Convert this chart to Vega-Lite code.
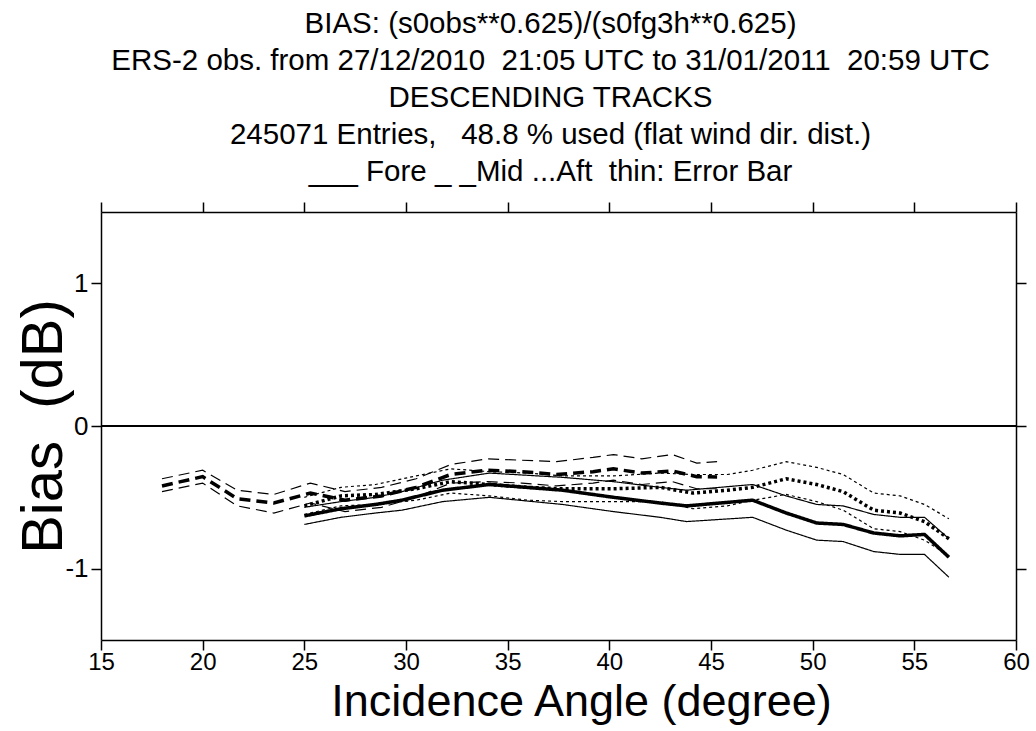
{
  "$schema": "https://vega.github.io/schema/vega-lite/v6.json",
  "width": 915,
  "height": 428,
  "autosize": {"type": "none"},
  "padding": {"left": 101, "top": 212, "right": 20, "bottom": 91},
  "background": "white",
  "title": {
    "text": [
      "BIAS: (s0obs**0.625)/(s0fg3h**0.625)",
      "ERS-2 obs. from 27/12/2010 \u00a021:05 UTC to 31/01/2011 \u00a020:59 UTC",
      "DESCENDING TRACKS",
      "245071 Entries, \u00a0 48.8 % used (flat wind dir. dist.)",
      "___ Fore _ _Mid ...Aft \u00a0thin: Error Bar"
    ],
    "anchor": "middle",
    "font": "Liberation Sans",
    "fontSize": 29.5,
    "fontWeight": "normal",
    "color": "black",
    "lineHeight": 37,
    "offset": 14,
    "dx": -8
  },
  "config": {
    "view": {"stroke": null},
    "axis": {
      "domainColor": "black",
      "domainWidth": 1.5,
      "tickColor": "black",
      "tickWidth": 1.5,
      "tickSize": 10,
      "labelColor": "black",
      "labelFont": "Liberation Sans",
      "labelFontSize": 26,
      "titleFont": "Liberation Sans",
      "titleColor": "black",
      "titleFontWeight": "normal",
      "grid": false
    }
  },
  "data": {
    "values": [
      {"angle": 18.0, "bias": -0.42, "beam": "Mid", "stat": "bias"},
      {"angle": 20.0, "bias": -0.355, "beam": "Mid", "stat": "bias"},
      {"angle": 21.7, "bias": -0.51, "beam": "Mid", "stat": "bias"},
      {"angle": 23.5, "bias": -0.54, "beam": "Mid", "stat": "bias"},
      {"angle": 25.3, "bias": -0.47, "beam": "Mid", "stat": "bias"},
      {"angle": 27.0, "bias": -0.52, "beam": "Mid", "stat": "bias"},
      {"angle": 28.8, "bias": -0.49, "beam": "Mid", "stat": "bias"},
      {"angle": 30.5, "bias": -0.43, "beam": "Mid", "stat": "bias"},
      {"angle": 32.2, "bias": -0.34, "beam": "Mid", "stat": "bias"},
      {"angle": 34.0, "bias": -0.31, "beam": "Mid", "stat": "bias"},
      {"angle": 35.7, "bias": -0.32, "beam": "Mid", "stat": "bias"},
      {"angle": 37.4, "bias": -0.34, "beam": "Mid", "stat": "bias"},
      {"angle": 39.2, "bias": -0.32, "beam": "Mid", "stat": "bias"},
      {"angle": 40.2, "bias": -0.30, "beam": "Mid", "stat": "bias"},
      {"angle": 41.6, "bias": -0.33, "beam": "Mid", "stat": "bias"},
      {"angle": 43.1, "bias": -0.315, "beam": "Mid", "stat": "bias"},
      {"angle": 44.3, "bias": -0.355, "beam": "Mid", "stat": "bias"},
      {"angle": 45.3, "bias": -0.357, "beam": "Mid", "stat": "bias"},

      {"angle": 18.0, "bias": -0.37, "beam": "Mid", "stat": "upper"},
      {"angle": 20.0, "bias": -0.31, "beam": "Mid", "stat": "upper"},
      {"angle": 21.7, "bias": -0.45, "beam": "Mid", "stat": "upper"},
      {"angle": 23.5, "bias": -0.48, "beam": "Mid", "stat": "upper"},
      {"angle": 25.3, "bias": -0.40, "beam": "Mid", "stat": "upper"},
      {"angle": 27.0, "bias": -0.46, "beam": "Mid", "stat": "upper"},
      {"angle": 28.8, "bias": -0.43, "beam": "Mid", "stat": "upper"},
      {"angle": 30.5, "bias": -0.37, "beam": "Mid", "stat": "upper"},
      {"angle": 32.2, "bias": -0.27, "beam": "Mid", "stat": "upper"},
      {"angle": 34.0, "bias": -0.23, "beam": "Mid", "stat": "upper"},
      {"angle": 35.7, "bias": -0.24, "beam": "Mid", "stat": "upper"},
      {"angle": 37.4, "bias": -0.25, "beam": "Mid", "stat": "upper"},
      {"angle": 39.2, "bias": -0.22, "beam": "Mid", "stat": "upper"},
      {"angle": 40.2, "bias": -0.20, "beam": "Mid", "stat": "upper"},
      {"angle": 41.6, "bias": -0.23, "beam": "Mid", "stat": "upper"},
      {"angle": 43.1, "bias": -0.20, "beam": "Mid", "stat": "upper"},
      {"angle": 44.3, "bias": -0.26, "beam": "Mid", "stat": "upper"},
      {"angle": 45.3, "bias": -0.25, "beam": "Mid", "stat": "upper"},

      {"angle": 18.0, "bias": -0.46, "beam": "Mid", "stat": "lower"},
      {"angle": 20.0, "bias": -0.40, "beam": "Mid", "stat": "lower"},
      {"angle": 21.7, "bias": -0.56, "beam": "Mid", "stat": "lower"},
      {"angle": 23.5, "bias": -0.61, "beam": "Mid", "stat": "lower"},
      {"angle": 25.3, "bias": -0.54, "beam": "Mid", "stat": "lower"},
      {"angle": 27.0, "bias": -0.60, "beam": "Mid", "stat": "lower"},
      {"angle": 28.8, "bias": -0.57, "beam": "Mid", "stat": "lower"},
      {"angle": 30.5, "bias": -0.50, "beam": "Mid", "stat": "lower"},
      {"angle": 32.2, "bias": -0.40, "beam": "Mid", "stat": "lower"},
      {"angle": 34.0, "bias": -0.39, "beam": "Mid", "stat": "lower"},
      {"angle": 35.7, "bias": -0.40, "beam": "Mid", "stat": "lower"},
      {"angle": 37.4, "bias": -0.42, "beam": "Mid", "stat": "lower"},
      {"angle": 39.2, "bias": -0.40, "beam": "Mid", "stat": "lower"},
      {"angle": 40.2, "bias": -0.38, "beam": "Mid", "stat": "lower"},
      {"angle": 41.6, "bias": -0.41, "beam": "Mid", "stat": "lower"},
      {"angle": 43.1, "bias": -0.39, "beam": "Mid", "stat": "lower"},
      {"angle": 44.3, "bias": -0.44, "beam": "Mid", "stat": "lower"},
      {"angle": 45.3, "bias": -0.44, "beam": "Mid", "stat": "lower"},

      {"angle": 25.0, "bias": -0.63, "beam": "Fore", "stat": "bias"},
      {"angle": 26.8, "bias": -0.58, "beam": "Fore", "stat": "bias"},
      {"angle": 28.5, "bias": -0.55, "beam": "Fore", "stat": "bias"},
      {"angle": 29.8, "bias": -0.52, "beam": "Fore", "stat": "bias"},
      {"angle": 31.8, "bias": -0.45, "beam": "Fore", "stat": "bias"},
      {"angle": 34.1, "bias": -0.41, "beam": "Fore", "stat": "bias"},
      {"angle": 37.7, "bias": -0.45, "beam": "Fore", "stat": "bias"},
      {"angle": 40.2, "bias": -0.50, "beam": "Fore", "stat": "bias"},
      {"angle": 42.5, "bias": -0.54, "beam": "Fore", "stat": "bias"},
      {"angle": 43.8, "bias": -0.56, "beam": "Fore", "stat": "bias"},
      {"angle": 47.05, "bias": -0.52, "beam": "Fore", "stat": "bias"},
      {"angle": 48.7, "bias": -0.61, "beam": "Fore", "stat": "bias"},
      {"angle": 50.2, "bias": -0.68, "beam": "Fore", "stat": "bias"},
      {"angle": 51.5, "bias": -0.69, "beam": "Fore", "stat": "bias"},
      {"angle": 53.0, "bias": -0.75, "beam": "Fore", "stat": "bias"},
      {"angle": 54.3, "bias": -0.77, "beam": "Fore", "stat": "bias"},
      {"angle": 55.5, "bias": -0.76, "beam": "Fore", "stat": "bias"},
      {"angle": 56.7, "bias": -0.92, "beam": "Fore", "stat": "bias"},

      {"angle": 25.0, "bias": -0.57, "beam": "Fore", "stat": "upper"},
      {"angle": 26.8, "bias": -0.53, "beam": "Fore", "stat": "upper"},
      {"angle": 28.5, "bias": -0.50, "beam": "Fore", "stat": "upper"},
      {"angle": 29.8, "bias": -0.46, "beam": "Fore", "stat": "upper"},
      {"angle": 31.8, "bias": -0.38, "beam": "Fore", "stat": "upper"},
      {"angle": 34.1, "bias": -0.33, "beam": "Fore", "stat": "upper"},
      {"angle": 37.7, "bias": -0.36, "beam": "Fore", "stat": "upper"},
      {"angle": 40.2, "bias": -0.39, "beam": "Fore", "stat": "upper"},
      {"angle": 42.5, "bias": -0.43, "beam": "Fore", "stat": "upper"},
      {"angle": 43.8, "bias": -0.45, "beam": "Fore", "stat": "upper"},
      {"angle": 47.05, "bias": -0.41, "beam": "Fore", "stat": "upper"},
      {"angle": 48.7, "bias": -0.49, "beam": "Fore", "stat": "upper"},
      {"angle": 50.2, "bias": -0.55, "beam": "Fore", "stat": "upper"},
      {"angle": 51.5, "bias": -0.56, "beam": "Fore", "stat": "upper"},
      {"angle": 53.0, "bias": -0.62, "beam": "Fore", "stat": "upper"},
      {"angle": 54.3, "bias": -0.64, "beam": "Fore", "stat": "upper"},
      {"angle": 55.5, "bias": -0.64, "beam": "Fore", "stat": "upper"},
      {"angle": 56.7, "bias": -0.79, "beam": "Fore", "stat": "upper"},

      {"angle": 25.0, "bias": -0.69, "beam": "Fore", "stat": "lower"},
      {"angle": 26.8, "bias": -0.64, "beam": "Fore", "stat": "lower"},
      {"angle": 28.5, "bias": -0.61, "beam": "Fore", "stat": "lower"},
      {"angle": 29.8, "bias": -0.59, "beam": "Fore", "stat": "lower"},
      {"angle": 31.8, "bias": -0.53, "beam": "Fore", "stat": "lower"},
      {"angle": 34.1, "bias": -0.50, "beam": "Fore", "stat": "lower"},
      {"angle": 37.7, "bias": -0.55, "beam": "Fore", "stat": "lower"},
      {"angle": 40.2, "bias": -0.60, "beam": "Fore", "stat": "lower"},
      {"angle": 42.5, "bias": -0.64, "beam": "Fore", "stat": "lower"},
      {"angle": 43.8, "bias": -0.67, "beam": "Fore", "stat": "lower"},
      {"angle": 47.05, "bias": -0.64, "beam": "Fore", "stat": "lower"},
      {"angle": 48.7, "bias": -0.73, "beam": "Fore", "stat": "lower"},
      {"angle": 50.2, "bias": -0.80, "beam": "Fore", "stat": "lower"},
      {"angle": 51.5, "bias": -0.81, "beam": "Fore", "stat": "lower"},
      {"angle": 53.0, "bias": -0.88, "beam": "Fore", "stat": "lower"},
      {"angle": 54.3, "bias": -0.90, "beam": "Fore", "stat": "lower"},
      {"angle": 55.5, "bias": -0.90, "beam": "Fore", "stat": "lower"},
      {"angle": 56.7, "bias": -1.06, "beam": "Fore", "stat": "lower"},

      {"angle": 25.0, "bias": -0.56, "beam": "Aft", "stat": "bias"},
      {"angle": 26.8, "bias": -0.49, "beam": "Aft", "stat": "bias"},
      {"angle": 28.5, "bias": -0.48, "beam": "Aft", "stat": "bias"},
      {"angle": 30.5, "bias": -0.44, "beam": "Aft", "stat": "bias"},
      {"angle": 32.2, "bias": -0.39, "beam": "Aft", "stat": "bias"},
      {"angle": 34.1, "bias": -0.41, "beam": "Aft", "stat": "bias"},
      {"angle": 36.0, "bias": -0.43, "beam": "Aft", "stat": "bias"},
      {"angle": 37.7, "bias": -0.44, "beam": "Aft", "stat": "bias"},
      {"angle": 40.2, "bias": -0.44, "beam": "Aft", "stat": "bias"},
      {"angle": 42.5, "bias": -0.43, "beam": "Aft", "stat": "bias"},
      {"angle": 44.1, "bias": -0.47, "beam": "Aft", "stat": "bias"},
      {"angle": 45.8, "bias": -0.45, "beam": "Aft", "stat": "bias"},
      {"angle": 47.05, "bias": -0.43, "beam": "Aft", "stat": "bias"},
      {"angle": 48.7, "bias": -0.37, "beam": "Aft", "stat": "bias"},
      {"angle": 50.2, "bias": -0.41, "beam": "Aft", "stat": "bias"},
      {"angle": 51.5, "bias": -0.46, "beam": "Aft", "stat": "bias"},
      {"angle": 53.0, "bias": -0.59, "beam": "Aft", "stat": "bias"},
      {"angle": 54.3, "bias": -0.61, "beam": "Aft", "stat": "bias"},
      {"angle": 55.5, "bias": -0.67, "beam": "Aft", "stat": "bias"},
      {"angle": 56.7, "bias": -0.79, "beam": "Aft", "stat": "bias"},

      {"angle": 25.0, "bias": -0.50, "beam": "Aft", "stat": "upper"},
      {"angle": 26.8, "bias": -0.43, "beam": "Aft", "stat": "upper"},
      {"angle": 28.5, "bias": -0.41, "beam": "Aft", "stat": "upper"},
      {"angle": 30.5, "bias": -0.35, "beam": "Aft", "stat": "upper"},
      {"angle": 32.2, "bias": -0.30, "beam": "Aft", "stat": "upper"},
      {"angle": 34.1, "bias": -0.32, "beam": "Aft", "stat": "upper"},
      {"angle": 36.0, "bias": -0.33, "beam": "Aft", "stat": "upper"},
      {"angle": 37.7, "bias": -0.35, "beam": "Aft", "stat": "upper"},
      {"angle": 40.2, "bias": -0.35, "beam": "Aft", "stat": "upper"},
      {"angle": 42.5, "bias": -0.33, "beam": "Aft", "stat": "upper"},
      {"angle": 44.1, "bias": -0.34, "beam": "Aft", "stat": "upper"},
      {"angle": 45.8, "bias": -0.34, "beam": "Aft", "stat": "upper"},
      {"angle": 47.05, "bias": -0.31, "beam": "Aft", "stat": "upper"},
      {"angle": 48.7, "bias": -0.25, "beam": "Aft", "stat": "upper"},
      {"angle": 50.2, "bias": -0.29, "beam": "Aft", "stat": "upper"},
      {"angle": 51.5, "bias": -0.34, "beam": "Aft", "stat": "upper"},
      {"angle": 53.0, "bias": -0.47, "beam": "Aft", "stat": "upper"},
      {"angle": 54.3, "bias": -0.49, "beam": "Aft", "stat": "upper"},
      {"angle": 55.5, "bias": -0.55, "beam": "Aft", "stat": "upper"},
      {"angle": 56.7, "bias": -0.65, "beam": "Aft", "stat": "upper"},

      {"angle": 25.0, "bias": -0.62, "beam": "Aft", "stat": "lower"},
      {"angle": 26.8, "bias": -0.56, "beam": "Aft", "stat": "lower"},
      {"angle": 28.5, "bias": -0.55, "beam": "Aft", "stat": "lower"},
      {"angle": 30.5, "bias": -0.52, "beam": "Aft", "stat": "lower"},
      {"angle": 32.2, "bias": -0.47, "beam": "Aft", "stat": "lower"},
      {"angle": 34.1, "bias": -0.49, "beam": "Aft", "stat": "lower"},
      {"angle": 36.0, "bias": -0.52, "beam": "Aft", "stat": "lower"},
      {"angle": 37.7, "bias": -0.53, "beam": "Aft", "stat": "lower"},
      {"angle": 40.2, "bias": -0.53, "beam": "Aft", "stat": "lower"},
      {"angle": 42.5, "bias": -0.53, "beam": "Aft", "stat": "lower"},
      {"angle": 44.1, "bias": -0.58, "beam": "Aft", "stat": "lower"},
      {"angle": 45.8, "bias": -0.56, "beam": "Aft", "stat": "lower"},
      {"angle": 47.05, "bias": -0.52, "beam": "Aft", "stat": "lower"},
      {"angle": 48.7, "bias": -0.48, "beam": "Aft", "stat": "lower"},
      {"angle": 50.2, "bias": -0.53, "beam": "Aft", "stat": "lower"},
      {"angle": 51.5, "bias": -0.59, "beam": "Aft", "stat": "lower"},
      {"angle": 53.0, "bias": -0.72, "beam": "Aft", "stat": "lower"},
      {"angle": 54.3, "bias": -0.74, "beam": "Aft", "stat": "lower"},
      {"angle": 55.5, "bias": -0.80, "beam": "Aft", "stat": "lower"},
      {"angle": 56.7, "bias": -0.91, "beam": "Aft", "stat": "lower"}
    ]
  },
  "resolve": {"axis": {"x": "independent", "y": "independent"}},
  "layer": [
    {
      "mark": {"type": "rule", "color": "black", "strokeWidth": 1.5},
      "encoding": {"y": {"datum": 0, "type": "quantitative", "scale": {"domain": [-1.5, 1.5], "nice": false}, "axis": null}}
    },
    {
      "transform": [{"filter": "datum.stat === 'bias'"}],
      "mark": {"type": "line", "color": "black", "strokeWidth": 3.5, "strokeCap": "butt"},
      "encoding": {
        "x": {"field": "angle", "type": "quantitative", "scale": {"domain": [15, 60], "nice": false, "zero": false},
              "axis": {"orient": "bottom", "values": [15, 20, 25, 30, 35, 40, 45, 50, 55, 60], "title": "Incidence Angle (degree)", "titleFontSize": 45, "titleY": 39, "titleX": 480, "labelPadding": 0, "labelFontSize": 24, "labelFlush": false}},
        "y": {"field": "bias", "type": "quantitative", "scale": {"domain": [-1.5, 1.5], "nice": false, "zero": false},
              "axis": {"orient": "left", "values": [-1, 0, 1], "labelExpr": "'' + datum.value", "title": "Bias \u00a0(dB)", "titleFontSize": 58, "titleX": -28, "labelPadding": 3}},
        "strokeDash": {"field": "beam", "type": "nominal", "scale": {"domain": ["Fore", "Mid", "Aft"], "range": [[1, 0], [11, 6], [3, 3]]}, "legend": null},
        "detail": {"field": "beam"}
      }
    },
    {
      "transform": [{"filter": "datum.stat !== 'bias'"}],
      "mark": {"type": "line", "color": "black", "strokeWidth": 1.2},
      "encoding": {
        "x": {"field": "angle", "type": "quantitative",
              "axis": {"orient": "top", "values": [15, 20, 25, 30, 35, 40, 45, 50, 55, 60], "labels": false, "title": null}},
        "y": {"field": "bias", "type": "quantitative",
              "axis": {"orient": "right", "values": [-1, 0, 1], "labels": false, "title": null}},
        "strokeDash": {"field": "beam", "type": "nominal", "scale": {"domain": ["Fore", "Mid", "Aft"], "range": [[1, 0], [8, 5], [2, 5]]}, "legend": null},
        "detail": {"field": "stat"}
      }
    }
  ]
}
